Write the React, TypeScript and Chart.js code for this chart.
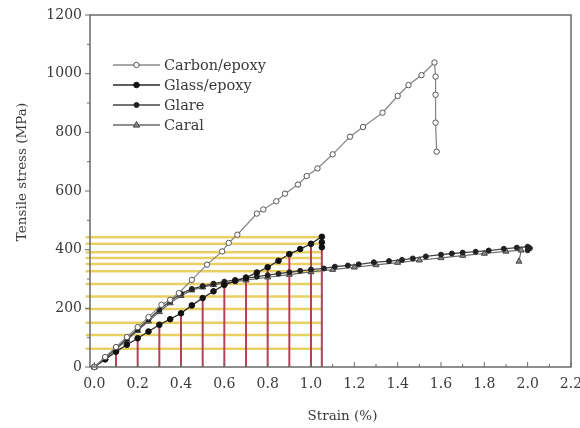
import React, { useEffect, useRef } from 'react';
import { Chart, registerables } from 'chart.js';

Chart.register(...registerables);

// ---- data ----
const seriesNames = ['Carbon/epoxy', 'Glass/epoxy', 'Glare', 'Caral'];

const carbonStrain = [0, 0.05, 0.1, 0.15, 0.2, 0.25, 0.31, 0.35, 0.39, 0.45, 0.52, 0.59, 0.62, 0.66, 0.75, 0.78, 0.84, 0.88, 0.94, 0.98, 1.03, 1.1, 1.18, 1.24, 1.33, 1.4, 1.45, 1.51, 1.57, 1.575, 1.575, 1.575, 1.58];
const carbonStress = [0, 34, 68, 102, 136, 170, 212, 229, 252, 297, 349, 394, 423, 451, 523, 537, 565, 591, 622, 651, 677, 725, 785, 818, 867, 924, 961, 995, 1038, 990, 928, 833, 734];

const glassStrain = [0, 0.05, 0.1, 0.15, 0.2, 0.25, 0.3, 0.35, 0.4, 0.45, 0.5, 0.55, 0.6, 0.65, 0.7, 0.75, 0.8, 0.85, 0.9, 0.95, 1.0, 1.05, 1.05, 1.05];
const glassStress = [0, 26, 52, 76, 98, 121, 144, 163, 183, 210, 235, 258, 280, 293, 305, 322, 340, 362, 385, 402, 420, 444, 425, 408];

const glareStrain = [0, 0.05, 0.1, 0.15, 0.2, 0.25, 0.3, 0.35, 0.4, 0.45, 0.5, 0.55, 0.6, 0.65, 0.7, 0.75, 0.8, 0.85, 0.9, 0.95, 1.0, 1.06, 1.11, 1.17, 1.22, 1.29, 1.36, 1.42, 1.47, 1.53, 1.6, 1.65, 1.7, 1.76, 1.82, 1.89, 1.95, 2.0, 2.01, 2.0];
const glareStress = [0, 32, 64, 96, 128, 162, 195, 225, 250, 266, 276, 284, 291, 297, 302, 308, 313, 318, 323, 328, 332, 336, 342, 346, 350, 357, 361, 365, 370, 377, 383, 387, 390, 393, 397, 403, 407, 410, 405, 398];

const caralStrain = [0, 0.05, 0.1, 0.15, 0.2, 0.25, 0.3, 0.35, 0.4, 0.45, 0.5, 0.55, 0.6, 0.7, 0.8, 0.9, 1.0, 1.1, 1.2, 1.3, 1.4, 1.5, 1.6, 1.7, 1.8, 1.9, 1.97, 1.96];
const caralStress = [0, 30, 60, 92, 124, 156, 188, 218, 243, 262, 272, 280, 286, 296, 306, 315, 324, 332, 340, 348, 356, 364, 372, 380, 387, 394, 398, 360];

// reference guide lines
const yellowLevels = [62, 109, 151, 198, 240, 283, 326, 351, 372, 391, 420, 442];
const yellowStart = -0.04;
const yellowEnd = 1.05;
const redStrains = [0.1, 0.2, 0.3, 0.4, 0.5, 0.6, 0.7, 0.8, 0.9, 1.0, 1.05];
const redTops = [52, 98, 144, 183, 235, 280, 305, 340, 385, 420, 444];

// axes
const xTickValues = [0, 0.1, 0.2, 0.3, 0.4, 0.5, 0.6, 0.7, 0.8, 0.9, 1.0, 1.1, 1.2, 1.3, 1.4, 1.5, 1.6, 1.7, 1.8, 1.9, 2.0, 2.1, 2.2];
const yTickValues = [0, 100, 200, 300, 400, 500, 600, 700, 800, 900, 1000, 1100, 1200];
const xTitle = 'Strain (%)';
const yTitle = 'Tensile stress (MPa)';

const FONT = '"DejaVu Serif", "Liberation Serif", serif';
const TEXT = '#3a3a3a';
const AXIS = '#6a6a6a';

const zip = (xs: number[], ys: number[]) => xs.map((x, i) => ({ x, y: ys[i] }));

const styles: Record<string, any> = {
  'Carbon/epoxy': { line: '#8a8a8a', border: '#555', fill: '#ffffff', point: 'circle', r: 2.7, lw: 1.3 },
  'Glass/epoxy': { line: '#2a2a2a', border: '#111', fill: '#111', point: 'circle', r: 2.8, lw: 1.3 },
  Glare: { line: '#444', border: '#222', fill: '#222', point: 'circle', r: 2.5, lw: 1.3 },
  Caral: { line: '#6a6a6a', border: '#444', fill: '#8a8a8a', point: 'triangle', r: 3.5, lw: 1.2 },
};

function drawMarker(ctx: CanvasRenderingContext2D, st: any, x: number, y: number) {
  ctx.beginPath();
  if (st.point === 'triangle') {
    const r = st.r;
    ctx.moveTo(x, y - r);
    ctx.lineTo(x + r * 0.9, y + r * 0.6);
    ctx.lineTo(x - r * 0.9, y + r * 0.6);
    ctx.closePath();
  } else {
    ctx.arc(x, y, st.r, 0, Math.PI * 2);
  }
  ctx.fillStyle = st.fill;
  ctx.fill();
  ctx.strokeStyle = st.border;
  ctx.lineWidth = 1;
  ctx.stroke();
}

const framePlugin = {
  id: 'frameAndText',
  afterDraw(chart: any) {
    const { ctx, chartArea: a, scales } = chart;
    const xs = scales.x;
    const ys = scales.y;
    ctx.save();
    // frame
    ctx.strokeStyle = AXIS;
    ctx.lineWidth = 1.5;
    ctx.strokeRect(a.left, a.top, a.right - a.left, a.bottom - a.top);
    // y ticks (outside)
    ctx.lineWidth = 1;
    yTickValues.forEach((v) => {
      const py = ys.getPixelForValue(v);
      const len = v % 200 === 0 ? 5 : 3;
      ctx.beginPath();
      ctx.moveTo(a.left - len, py);
      ctx.lineTo(a.left, py);
      ctx.stroke();
    });
    // x ticks (inside)
    xTickValues.forEach((v, i) => {
      const px = xs.getPixelForValue(v);
      const len = i % 2 === 0 ? 5 : 3;
      ctx.beginPath();
      ctx.moveTo(px, a.bottom);
      ctx.lineTo(px, a.bottom - len);
      ctx.stroke();
    });
    // axis titles
    ctx.fillStyle = TEXT;
    ctx.font = `13.5px ${FONT}`;
    ctx.textAlign = 'center';
    ctx.textBaseline = 'middle';
    ctx.fillText(xTitle, (a.left + a.right) / 2 + 12, a.bottom + 49);
    ctx.save();
    ctx.translate(22, (a.top + a.bottom) / 2 - 19);
    ctx.rotate(-Math.PI / 2);
    ctx.fillText(yTitle, 0, 0);
    ctx.restore();
    // legend
    const lx0 = a.left + 23;
    const lx1 = a.left + 70;
    const ly0 = a.top + 50;
    const dy = 20;
    ctx.font = `14.5px ${FONT}`;
    ctx.textAlign = 'left';
    seriesNames.forEach((name, i) => {
      const st = styles[name];
      const y = ly0 + i * dy;
      ctx.strokeStyle = st.line;
      ctx.lineWidth = 1.5;
      ctx.beginPath();
      ctx.moveTo(lx0, y);
      ctx.lineTo(lx1, y);
      ctx.stroke();
      drawMarker(ctx, st, (lx0 + lx1) / 2, y);
      ctx.fillStyle = TEXT;
      ctx.fillText(name, lx1 + 4, y + 1);
    });
    ctx.restore();
  },
};

export default function App() {
  const ref = useRef<HTMLCanvasElement | null>(null);

  useEffect(() => {
    if (!ref.current) return;
    const datasets: any[] = [];
    const series: [string, number[], number[]][] = [
      ['Carbon/epoxy', carbonStrain, carbonStress],
      ['Glass/epoxy', glassStrain, glassStress],
      ['Glare', glareStrain, glareStress],
      ['Caral', caralStrain, caralStress],
    ];
    series.forEach(([name, xs, ys]) => {
      const st = styles[name];
      datasets.push({
        label: name,
        data: zip(xs, ys),
        showLine: true,
        borderColor: st.line,
        borderWidth: st.lw,
        pointStyle: st.point,
        pointRadius: st.r,
        pointBackgroundColor: st.fill,
        pointBorderColor: st.border,
        pointBorderWidth: 1,
        order: 1,
        clip: false,
      });
    });
    yellowLevels.forEach((v) => {
      datasets.push({
        label: 'guide-h',
        data: [{ x: yellowStart, y: v }, { x: yellowEnd, y: v }],
        showLine: true,
        borderColor: 'rgba(233, 206, 90, 0.95)',
        borderWidth: 2.5,
        pointRadius: 0,
        order: 10,
        clip: false,
      });
    });
    redStrains.forEach((s, i) => {
      datasets.push({
        label: 'guide-v',
        data: [{ x: s, y: 0 }, { x: s, y: redTops[i] }],
        showLine: true,
        borderColor: '#b8405a',
        borderWidth: 2,
        pointRadius: 0,
        order: 5,
        clip: false,
      });
    });

    const chart = new Chart(ref.current, {
      type: 'scatter',
      data: { datasets },
      options: {
        animation: false,
        responsive: false,
        maintainAspectRatio: false,
        layout: { padding: { left: 0, right: 9, top: 15, bottom: 0 }, autoPadding: false } as any,
        plugins: { legend: { display: false }, tooltip: { enabled: false } },
        events: [],
        scales: {
          x: {
            type: 'linear',
            min: -0.02,
            max: 2.2,
            afterBuildTicks: (scale: any) => {
              scale.ticks = xTickValues.map((v) => ({ value: v }));
            },
            afterFit: (scale: any) => {
              scale.height = 61;
              scale.paddingLeft = 0;
              scale.paddingRight = 0;
            },
            grid: { display: false, drawTicks: false },
            border: { display: false },
            ticks: {
              autoSkip: false,
              maxRotation: 0,
              padding: 9,
              color: TEXT,
              font: { family: FONT, size: 14 },
              callback: (v: any, i: number) => (i % 2 === 0 ? Number(v).toFixed(1) : ''),
            },
            title: { display: false },
          },
          y: {
            type: 'linear',
            min: 0,
            max: 1200,
            afterBuildTicks: (scale: any) => {
              scale.ticks = yTickValues.map((v) => ({ value: v }));
            },
            afterFit: (scale: any) => {
              scale.width = 90;
              scale.paddingTop = 0;
              scale.paddingBottom = 0;
            },
            grid: { display: false, drawTicks: false },
            border: { display: false },
            ticks: {
              autoSkip: false,
              padding: 8,
              color: TEXT,
              font: { family: FONT, size: 14 },
              callback: (v: any) => (Number(v) % 200 === 0 ? String(v) : ''),
            },
            title: { display: false },
          },
        },
      },
      plugins: [framePlugin],
    });
    return () => chart.destroy();
  }, []);

  return (
    <div style={{ position: 'absolute', left: 0, top: 0, width: 580, height: 428, background: '#fff' }}>
      <canvas ref={ref} width={580} height={428} style={{ display: 'block' }} />
    </div>
  );
}
